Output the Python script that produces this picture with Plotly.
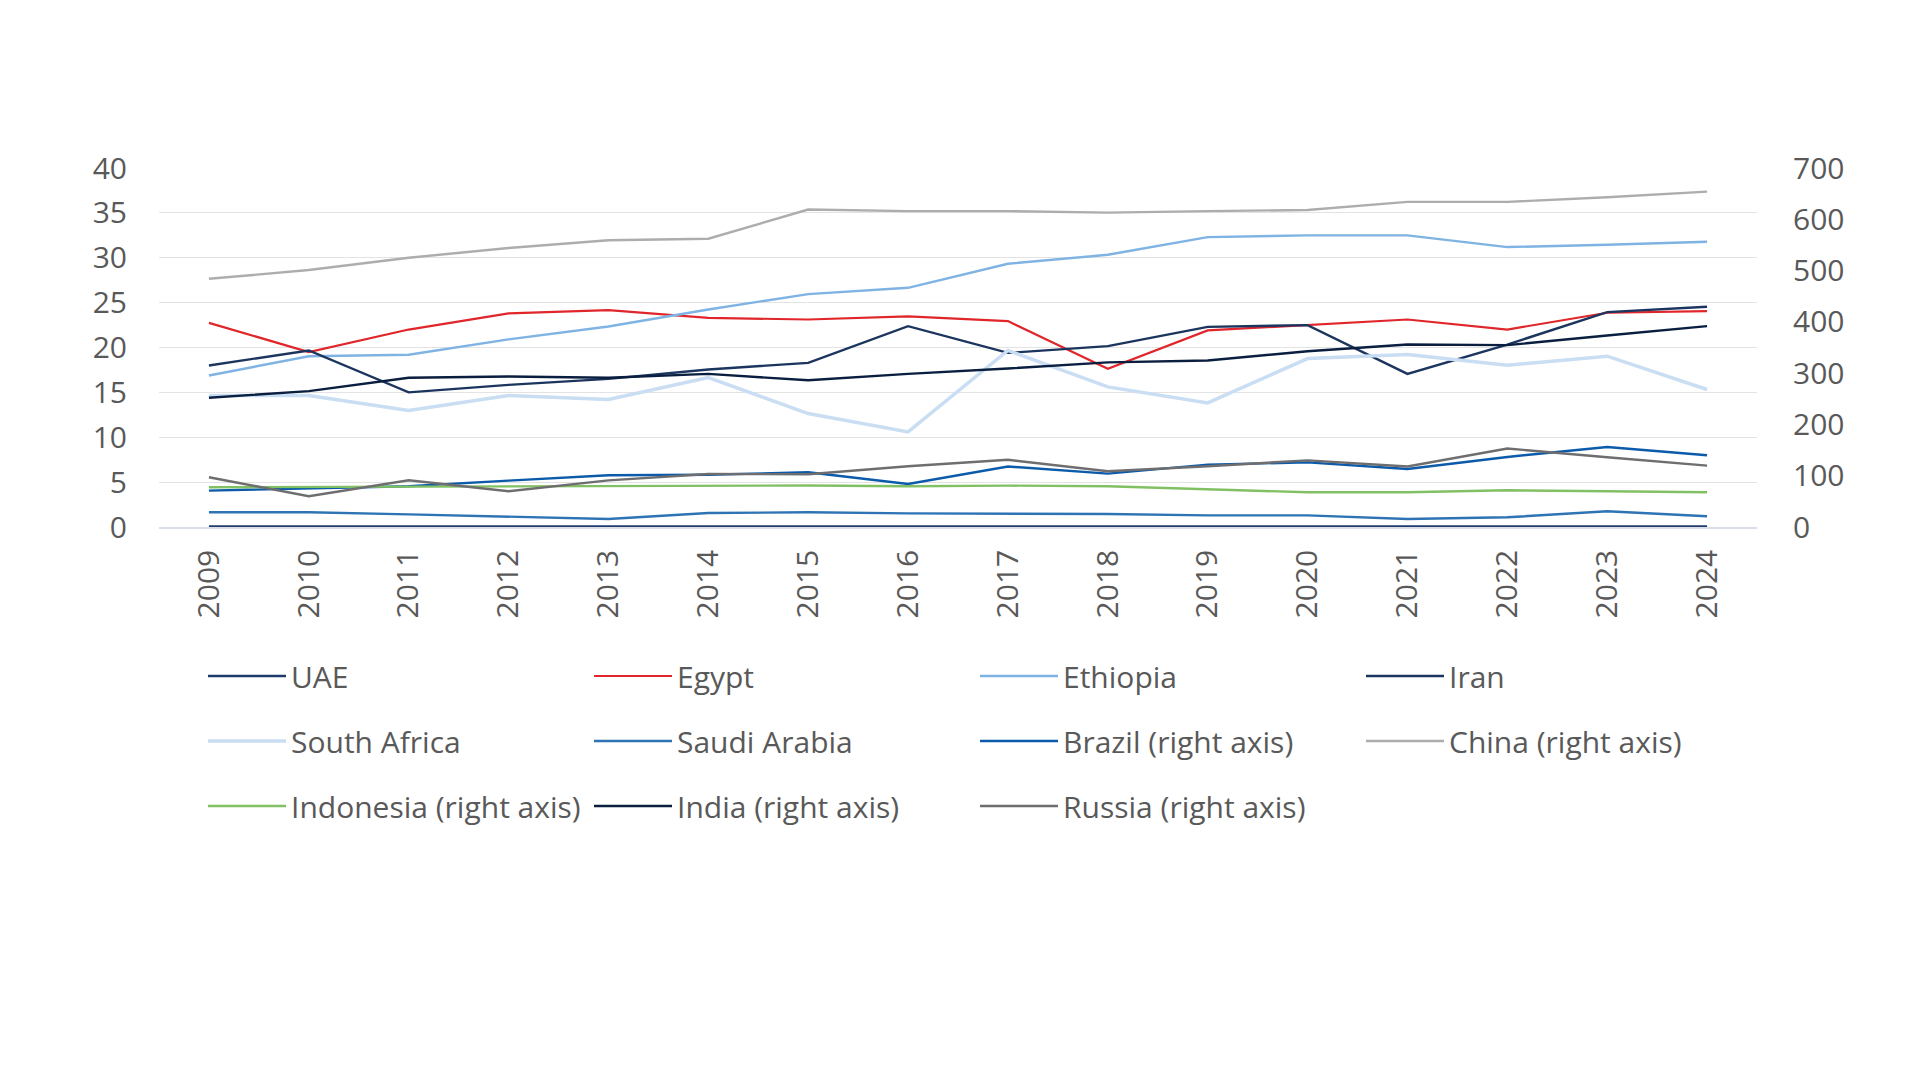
import plotly.graph_objects as go

years = [str(y) for y in range(2009, 2025)]

uae = [0.05, 0.05, 0.05, 0.05, 0.04, 0.05, 0.05, 0.05, 0.05, 0.05, 0.04, 0.04, 0.04, 0.05, 0.05, 0.05]
egypt = [22.75, 19.5, 22.0, 23.8, 24.16, 23.3, 23.12, 23.46, 22.94, 17.62, 21.9, 22.49, 23.12, 22.0, 23.87, 24.05]
ethiopia = [16.88, 19.03, 19.2, 20.9, 22.34, 24.24, 25.95, 26.65, 29.33, 30.33, 32.3, 32.49, 32.49, 31.19, 31.45, 31.78]
iran = [18.0, 19.67, 15.0, 15.84, 16.5, 17.55, 18.29, 22.38, 19.4, 20.15, 22.3, 22.49, 17.06, 20.33, 23.94, 24.54]
south_africa = [14.65, 14.65, 12.97, 14.65, 14.2, 16.65, 12.64, 10.6, 19.67, 15.61, 13.83, 18.77, 19.22, 18.03, 19.03, 15.32]
saudi_arabia = [1.64, 1.64, 1.41, 1.12, 0.89, 1.56, 1.64, 1.52, 1.52, 1.45, 1.3, 1.3, 0.89, 1.08, 1.75, 1.19]
brazil = [71, 74.8, 79.4, 90.4, 100.8, 102, 106.7, 84, 118, 104, 121.7, 126, 113, 136.6, 156, 140]
china = [484, 501, 525, 544, 559, 562, 619, 616, 616, 613, 616, 618, 634, 634, 643, 654]
indonesia = [77.4, 78, 78, 78.7, 78.7, 79.4, 81, 79.4, 80.7, 79.4, 74.2, 67.7, 67.7, 71.6, 69.6, 67.7]
india = [252, 265, 291, 293.5, 291, 298.6, 286, 298.6, 309, 321, 324.6, 342.8, 355.8, 354.6, 373.4, 391.7]
russia = [97, 59.9, 91, 69.6, 91, 103.4, 103, 118.4, 131, 108.6, 118.4, 130, 118, 153, 136, 119.7]

series = [
    ("UAE", uae, "#1F3B6B", "y", "legend", 2.4),
    ("Egypt", egypt, "#E0262B", "y", "legend", 2.2),
    ("Ethiopia", ethiopia, "#7EB3E3", "y", "legend", 2.4),
    ("Iran", iran, "#1C355E", "y", "legend", 2.4),
    ("South Africa", south_africa, "#C9DDF3", "y", "legend2", 3.5),
    ("Saudi Arabia", saudi_arabia, "#2E74B5", "y", "legend2", 2.4),
    ("Brazil (right axis)", brazil, "#0B5BAA", "y2", "legend2", 2.4),
    ("China (right axis)", china, "#ADADAD", "y2", "legend2", 2.4),
    ("Indonesia (right axis)", indonesia, "#82C064", "y2", "legend3", 2.4),
    ("India (right axis)", india, "#0A1E3F", "y2", "legend3", 2.4),
    ("Russia (right axis)", russia, "#6E6E70", "y2", "legend3", 2.4),
]

fig = go.Figure()
for name, vals, color, yax, leg, w in series:
    fig.add_trace(go.Scatter(
        x=years, y=vals, name=name, mode="lines",
        line=dict(color=color, width=w),
        yaxis=yax, legend=leg,
    ))

font_family = "Open Sans"
txt_color = "#595959"
plot_h = 1080 - 168 - 553

def leg(ypix):
    return dict(
        orientation="h", x=(203 - 159) / 1598, xanchor="left",
        y=-(ypix - 527) / plot_h, yanchor="middle",
        font=dict(family=font_family, size=30, color=txt_color),
        itemwidth=78, entrywidth=293, entrywidthmode="pixels",
        bgcolor="rgba(0,0,0,0)", traceorder="normal",
        itemclick=False, itemdoubleclick=False,
    )

fig.update_layout(
    width=1920, height=1080,
    margin=dict(l=159, r=163, t=168, b=553),
    paper_bgcolor="white", plot_bgcolor="white",
    font=dict(family=font_family, size=30, color=txt_color),
    showlegend=True,
    legend=leg(676), legend2=leg(741), legend3=leg(806),
    xaxis=dict(
        type="category", range=[-0.5, len(years) - 0.5], tickangle=-90, showgrid=False,
        showline=True, linecolor="#D9DEE8", linewidth=1.5,
        ticks="", ticklabelstandoff=9,
        tickfont=dict(family=font_family, size=30, color=txt_color),
    ),
    yaxis=dict(
        range=[0, 40], dtick=5, showgrid=True, gridcolor="#E3E3E3", gridwidth=1,
        zeroline=False, showline=False, ticks="", ticklabelstandoff=31,
        tickfont=dict(family=font_family, size=30, color=txt_color),
    ),
    yaxis2=dict(
        range=[0, 700], dtick=100, overlaying="y", side="right",
        showgrid=False, zeroline=False, showline=False, ticks="", ticklabelstandoff=35,
        tickfont=dict(family=font_family, size=30, color=txt_color),
    ),
)

fig.write_html("out.html")
